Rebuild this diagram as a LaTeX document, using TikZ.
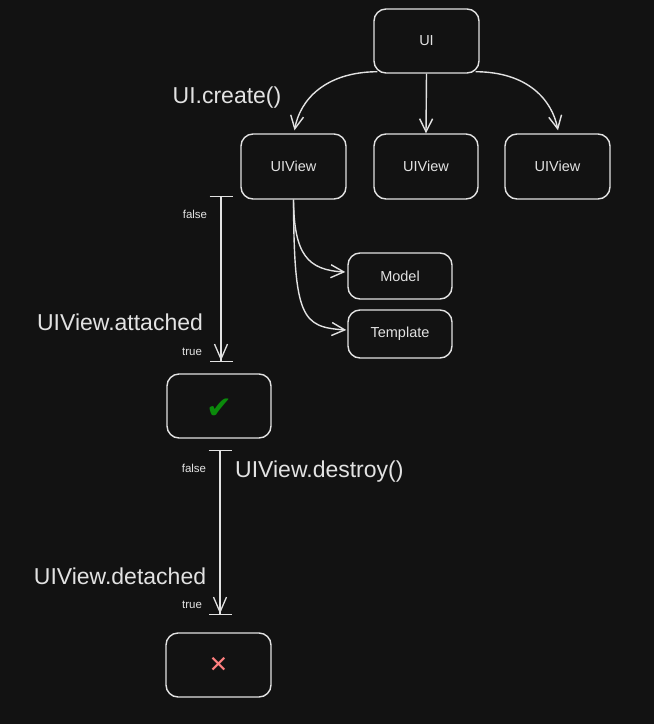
\documentclass[tikz,border=0pt]{standalone}
\usepackage{fontspec}
\setmainfont{Liberation Sans}
\newfontfamily\symfont{DejaVu Sans}
\usetikzlibrary{arrows.meta}
\definecolor{bg}{HTML}{121212}
\definecolor{ink}{HTML}{E2E2E2}
\definecolor{okgreen}{HTML}{0B8A0B}
\definecolor{nored}{HTML}{FF8080}
\begin{document}
\begin{tikzpicture}[x=1pt,y=-1pt,
  box/.style={draw=ink, line width=1.4pt, rounded corners=12pt, text=ink,
    font=\fontsize{14.5}{16}\selectfont, inner sep=0pt},
  arr/.style={draw=ink, line width=1.4pt, -{Straight Barb[length=13pt,width=13pt]}},
  bararr/.style={draw=ink, line width=1.3pt,
    {Bar[width=23pt]}-{Straight Barb[length=15pt,width=13pt]Bar[width=23pt]}},
  biglabel/.style={text=ink, font=\fontsize{23}{26}\selectfont, inner sep=0pt},
  smalllabel/.style={text=ink, font=\fontsize{11.5}{13}\selectfont, inner sep=0pt}]
\fill[bg] (0,0) rectangle (654,724);
\useasboundingbox (0,0) rectangle (654,724);

% boxes
\node[box, minimum width=105pt, minimum height=64pt] (ui) at (426.5,41) {UI};
\node[box, minimum width=105pt, minimum height=65pt] (v1) at (293.5,166.5) {UIView};
\node[box, minimum width=104pt, minimum height=65pt] (v2) at (426,166.5) {UIView};
\node[box, minimum width=105pt, minimum height=65pt] (v3) at (557.5,166.5) {UIView};
\node[box, minimum width=104pt, minimum height=46pt] (model) at (400,276) {Model};
\node[box, minimum width=104pt, minimum height=48pt] (tmpl) at (400,334) {Template};
\node[box, minimum width=104pt, minimum height=64pt] (ok) at (219,406) {};
\node[box, minimum width=105pt, minimum height=64pt] (no) at (218.5,665) {};

% icons
\node[text=okgreen, font=\symfont\fontsize{31}{33}\selectfont, inner sep=0pt] (okmark) at (219,409) {✔};
\node[text=nored, font=\symfont\fontsize{23}{25}\selectfont, inner sep=0pt] (nomark) at (218.5,665) {✕};

% arrows from UI
\draw[arr] ([xshift=4pt,yshift=2pt]ui.south west) .. controls (325,72) and (300,100) .. ([xshift=1pt,yshift=3pt]v1.north);
\draw[arr] (ui.south) -- (v2.north);
\draw[arr] ([xshift=-4pt,yshift=2pt]ui.south east) .. controls (528,72) and (552,100) .. ([xshift=0.5pt,yshift=3pt]v3.north);

% arrows from first UIView
\draw[arr] (v1.south) .. controls (294,255) and (308,270) .. ([xshift=-2pt,yshift=4pt]model.west);
\draw[arr] (v1.south) .. controls (294,318) and (302,327) .. ([xshift=-1pt,yshift=4pt]tmpl.west);

% lifecycle bar arrows
\coordinate (a1) at (221,196);
\coordinate (b1) at (221,362);
\coordinate (a2) at (220,450);
\coordinate (b2) at (220,615);
\draw[bararr] (a1) -- (b1);
\draw[bararr] (a2) -- (b2);

% labels
\node[biglabel] (lcreate) at (227,98) {UI.create()};
\node[biglabel] (lattached) at (120,322) {UIView.attached};
\node[biglabel, anchor=west] (ldestroy) at (235,472) {UIView.destroy()};
\node[biglabel] (ldetached) at (120,576) {UIView.detached};
\node[smalllabel] (f1) at (195,214) {false};
\node[smalllabel] (t1) at (192,352) {true};
\node[smalllabel] (f2) at (194,468) {false};
\node[smalllabel] (t2) at (192,605) {true};
\end{tikzpicture}
\end{document}
